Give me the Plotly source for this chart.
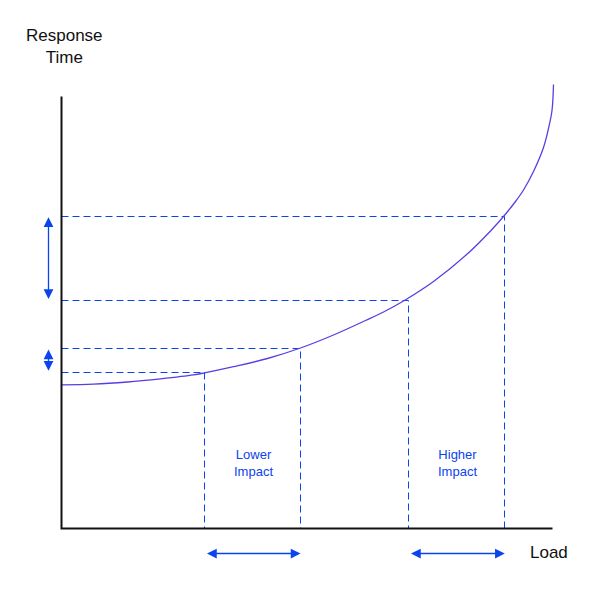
import plotly.graph_objects as go

# Curve: load vs response time (origin at axes corner)
curve_load = [0, 32, 66, 99, 132, 143, 172, 206, 239, 272, 304, 322, 342, 372, 406, 429, 442, 454, 462, 472, 482, 487, 490.5, 492]
curve_response = [143.7, 144.3, 146.5, 149.7, 153.6, 155.6, 161.8, 170, 180.5, 193.5, 208, 216.5, 227.5, 247, 274.7, 297.5, 312, 327, 338.5, 357, 381, 400, 418, 444]

# Reference points (load, response) for the dashed guides
ref_load = [143, 239, 347, 443]
ref_response = [156, 180, 228, 312]

# Arrow spans
resp_arrows = [(156.3, 179), (228, 311.3)]
load_arrows = [(144, 239), (348, 443.3)]
impact_labels = ["Lower<br>Impact", "Higher<br>Impact"]

axis_x_max = 491
axis_y_max = 432

BLUE = "#0a44ee"
CURVE = "#5a3ee0"
FONT = "Liberation Sans, Arial, Helvetica, sans-serif"

fig = go.Figure()

# dashed guides
for lx, ry in zip(ref_load, ref_response):
    fig.add_trace(go.Scatter(x=[0, lx, lx], y=[ry, ry, 0], mode="lines",
                             line=dict(color=BLUE, width=1, dash="7px,4px"),
                             hoverinfo="skip", showlegend=False))

# curve
fig.add_trace(go.Scatter(x=curve_load, y=curve_response, mode="lines",
                         line=dict(color=CURVE, width=1.3, shape="spline", smoothing=1.0),
                         hoverinfo="skip", showlegend=False))

# axes lines
fig.add_trace(go.Scatter(x=[0, 0, axis_x_max], y=[axis_y_max, 0, 0], mode="lines",
                         line=dict(color="#111111", width=2),
                         hoverinfo="skip", showlegend=False))

annotations = []
for y0, y1 in resp_arrows:
    annotations.append(dict(x=-13, y=y1, ax=-13, ay=y0, xref="x", yref="y",
                            axref="x", ayref="y", text="", showarrow=True,
                            arrowhead=2, startarrowhead=2, arrowside="end+start",
                            arrowsize=1.5, startarrowsize=1.5, arrowwidth=1.3,
                            arrowcolor=BLUE, standoff=0, startstandoff=0))
for x0, x1 in load_arrows:
    annotations.append(dict(x=x1, y=-25, ax=x0, ay=-25, xref="x", yref="y",
                            axref="x", ayref="y", text="", showarrow=True,
                            arrowhead=2, startarrowhead=2, arrowside="end+start",
                            arrowsize=1.5, startarrowsize=1.5, arrowwidth=1.3,
                            arrowcolor=BLUE, standoff=0, startstandoff=0))

for (x0, x1), label in zip(load_arrows, impact_labels):
    annotations.append(dict(x=(x0 + x1) / 2, y=66, xref="x", yref="y", text=label,
                            showarrow=False, font=dict(family=FONT, size=13, color=BLUE),
                            align="center"))

annotations.append(dict(x=3, y=482, xref="x", yref="y", text="Response<br>Time",
                        showarrow=False, font=dict(family=FONT, size=17, color="#111111"),
                        align="center"))
annotations.append(dict(x=487, y=-24, xref="x", yref="y", text="Load",
                        showarrow=False, font=dict(family=FONT, size=17, color="#111111")))

fig.update_layout(
    width=600, height=600,
    margin=dict(l=0, r=0, t=0, b=0),
    paper_bgcolor="white", plot_bgcolor="white",
    xaxis=dict(range=[-53.5, 546.5], visible=False, fixedrange=True),
    yaxis=dict(range=[-79.5, 520.5], visible=False, fixedrange=True),
    annotations=annotations,
    showlegend=False,
)

fig.write_html("out.html")
